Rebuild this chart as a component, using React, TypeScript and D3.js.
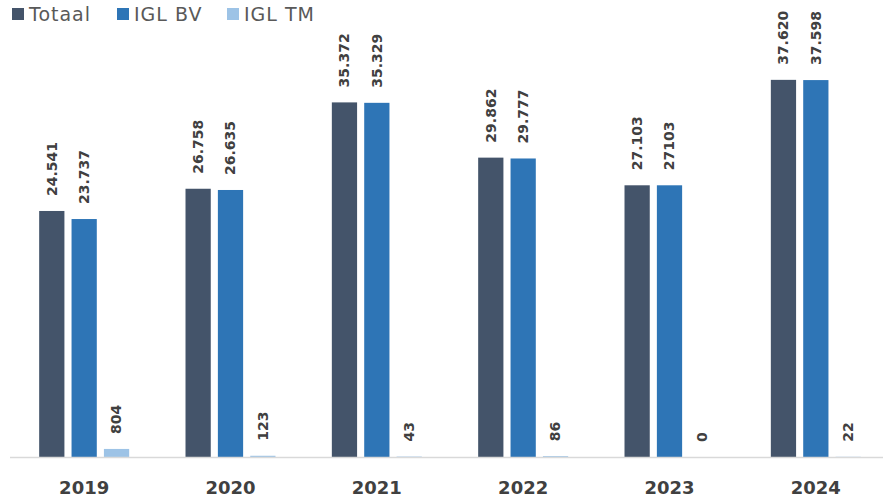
import React from 'react';
import * as d3 from 'd3';

const years = ['2019', '2020', '2021', '2022', '2023', '2024'];
const seriesNames = ['Totaal', 'IGL BV', 'IGL TM'];
const totaal = [24541, 26758, 35372, 29862, 27103, 37620];
const iglBv = [23737, 26635, 35329, 29777, 27103, 37598];
const iglTm = [804, 123, 43, 86, 0, 22];
const totaalLabels = ['24.541', '26.758', '35.372', '29.862', '27.103', '37.620'];
const iglBvLabels = ['23.737', '26.635', '35.329', '29.777', '27103', '37.598'];
const iglTmLabels = ['804', '123', '43', '86', '0', '22'];
const colors = ['#44546A', '#2E75B6', '#9DC3E6'];

const W = 883;
const H = 500;
const FONT = '"DejaVu Sans", "Open Sans", sans-serif';

const App: React.FC = () => {
  const values = [totaal, iglBv, iglTm];
  const labels = [totaalLabels, iglBvLabels, iglTmLabels];

  const x0 = d3.scaleBand<string>()
    .domain(years)
    .range([11, 889])
    .paddingInner(0.385)
    .paddingOuter(0.1925);

  const x1 = d3.scaleBand<string>()
    .domain(seriesNames)
    .range([0, x0.bandwidth()])
    .paddingInner(0.22);

  const y = d3.scaleLinear().domain([0, 40000]).range([457, 56]);

  const legendX = [12, 117, 227];

  return (
    <svg width={W} height={H} style={{ position: 'absolute', left: 0, top: 0 }}>
      <rect width={W} height={H} fill="#fff" />
      {/* legend */}
      {seriesNames.map((s, i) => (
        <g key={s}>
          <rect x={legendX[i]} y={8} width={12} height={12} fill={colors[i]} />
          <text x={legendX[i] + 17} y={21} fontSize={19} letterSpacing={1} fill="#595959" fontFamily={FONT}>{s}</text>
        </g>
      ))}
      {/* bars */}
      {years.map((yr, j) => (
        <g key={yr} transform={`translate(${x0(yr)},0)`}>
          {seriesNames.map((s, i) => {
            const v = values[i][j];
            const bx = x1(s)!;
            const top = y(v);
            return (
              <g key={s}>
                <rect x={bx} y={top} width={x1.bandwidth()} height={y(0) - top} fill={colors[i]} />
                <text
                  transform={`translate(${bx + x1.bandwidth() / 2},${top - 15}) rotate(-90)`}
                  dy="0.35em"
                  fontSize={14}
                  fontWeight="bold"
                  fill="#404040"
                  fontFamily={FONT}
                >{labels[i][j]}</text>
              </g>
            );
          })}
        </g>
      ))}
      {/* axis */}
      <line x1={10} x2={883} y1={457.5} y2={457.5} stroke="#d9d9d9" strokeWidth={1.5} />
      {years.map(yr => (
        <text
          key={yr}
          x={x0(yr)! + x0.bandwidth() / 2}
          y={494}
          textAnchor="middle"
          fontSize={18}
          fontWeight="bold"
          fill="#404040"
          fontFamily={FONT}
        >{yr}</text>
      ))}
    </svg>
  );
};

export default App;
